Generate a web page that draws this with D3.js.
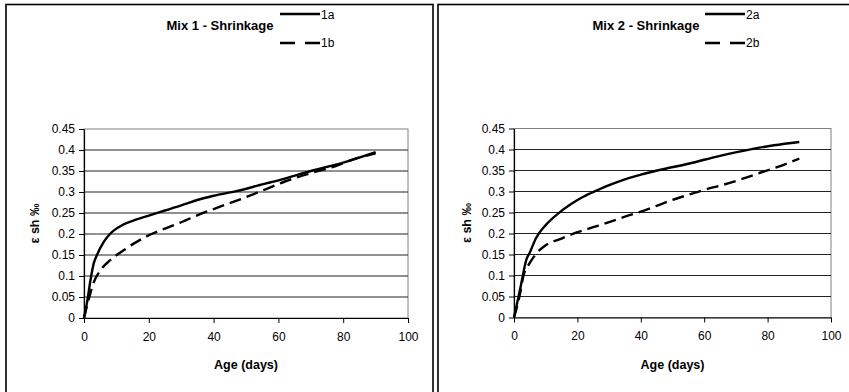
<!DOCTYPE html>
<html>
<head>
<meta charset="utf-8">
<script src="https://cdn.jsdelivr.net/npm/d3@7"></script>
<style>
  body { margin: 0; background: #fff; }
  svg { font-family: "Liberation Sans", Arial, sans-serif; }
  .axis path, .axis line { stroke: #000; }
  .axis text { font-size: 12px; fill: #000; }
</style>
</head>
<body>
<div id="chart"></div>
<script>
// tick values
var ageTicks = [0, 20, 40, 60, 80, 100];
var strainTicks = [0, 0.05, 0.1, 0.15, 0.2, 0.25, 0.3, 0.35, 0.4, 0.45];

// Mix 1
var age1a = [0, 1, 2, 3, 4, 6, 8, 12, 16, 20, 25, 30, 35, 40, 47, 55, 62, 70, 80, 90];
var strain1a = [0, 0.04, 0.09, 0.13, 0.15, 0.18, 0.2, 0.222, 0.234, 0.244, 0.256, 0.268, 0.281, 0.291, 0.302, 0.318, 0.332, 0.35, 0.37, 0.395];
var age1b = [0, 2, 3, 5, 8, 12, 16, 20, 25, 30, 36, 42, 48, 54, 62, 70, 77, 84, 90];
var strain1b = [0, 0.06, 0.085, 0.113, 0.137, 0.16, 0.18, 0.197, 0.213, 0.228, 0.248, 0.265, 0.282, 0.3, 0.325, 0.345, 0.36, 0.38, 0.392];

// Mix 2
var age2a = [0, 2, 4, 5, 7, 10, 14, 18, 22, 26, 30, 35, 40, 47, 55, 65, 75, 82, 90];
var strain2a = [0, 0.07, 0.14, 0.155, 0.19, 0.22, 0.248, 0.27, 0.288, 0.302, 0.315, 0.329, 0.34, 0.353, 0.366, 0.385, 0.401, 0.41, 0.418];
var age2b = [0, 2, 3, 5, 7, 10, 15, 20, 25, 30, 35, 40, 45, 50, 55, 60, 66, 72, 77, 83, 90];
var strain2b = [0, 0.06, 0.1, 0.13, 0.152, 0.172, 0.188, 0.203, 0.215, 0.227, 0.24, 0.252, 0.266, 0.28, 0.292, 0.304, 0.316, 0.33, 0.343, 0.358, 0.378];

var panels = [
  { title: "Mix 1 - Shrinkage", names: ["1a", "1b"], ages: [age1a, age1b], strains: [strain1a, strain1b],
    box: 6, left: 84, right: 408, top: 129, bottom: 318, titleX: 220, legendX: 280 },
  { title: "Mix 2 - Shrinkage", names: ["2a", "2b"], ages: [age2a, age2b], strains: [strain2a, strain2b],
    box: 438, left: 514, right: 831, top: 128.5, bottom: 317.5, titleX: 646, legendX: 705 }
];

var svg = d3.select("#chart").append("svg")
  .attr("width", 849)
  .attr("height", 392);

var dashes = ["none", "12,6"];

panels.forEach(function (p) {
  var g = svg.append("g");

  // outer frame
  g.append("rect")
    .attr("x", p.box)
    .attr("y", 4.5)
    .attr("width", 427)
    .attr("height", 400)
    .attr("fill", "none")
    .attr("stroke", "#000")
    .attr("stroke-width", 1.6);

  var x = d3.scaleLinear().domain([0, 100]).range([p.left, p.right]);
  var y = d3.scaleLinear().domain([0, 0.45]).range([p.bottom, p.top]);

  // plot area border
  g.append("rect")
    .attr("x", p.left)
    .attr("y", p.top)
    .attr("width", p.right - p.left)
    .attr("height", p.bottom - p.top)
    .attr("fill", "none")
    .attr("stroke", "#808080");

  // grid
  g.append("g")
    .selectAll("line")
    .data(strainTicks.slice(1, -1))
    .enter()
    .append("line")
    .attr("x1", p.left)
    .attr("x2", p.right)
    .attr("y1", d => y(d))
    .attr("y2", d => y(d))
    .attr("stroke", "#222")
    .attr("stroke-width", 1);

  // axes
  g.append("g")
    .attr("class", "axis")
    .attr("transform", "translate(0," + p.bottom + ")")
    .call(d3.axisBottom(x).tickValues(ageTicks).tickSize(5).tickSizeOuter(0).tickPadding(9).tickFormat(d => d))
    .select(".domain").attr("stroke-width", 1.2);

  g.append("g")
    .attr("class", "axis")
    .attr("transform", "translate(" + p.left + ",0)")
    .call(d3.axisLeft(y).tickValues(strainTicks).tickSize(5).tickSizeOuter(0).tickPadding(4).tickFormat(d => String(d)))
    .select(".domain").attr("stroke-width", 1.2);

  // axis titles
  g.append("text")
    .attr("x", (p.left + p.right) / 2)
    .attr("y", 369)
    .attr("text-anchor", "middle")
    .attr("font-size", 12.5)
    .attr("font-weight", "bold")
    .text("Age (days)");

  g.append("text")
    .attr("transform", "translate(" + (p.box + 33) + "," + ((p.top + p.bottom) / 2) + ") rotate(-90)")
    .attr("text-anchor", "middle")
    .attr("font-size", 12.5)
    .attr("font-weight", "bold")
    .text("ε sh ‰");

  // title
  g.append("text")
    .attr("x", p.titleX)
    .attr("y", 30)
    .attr("text-anchor", "middle")
    .attr("font-size", 13)
    .attr("font-weight", "bold")
    .text(p.title);

  // lines
  var line = d3.line()
    .x(d => x(d[0]))
    .y(d => y(d[1]))
    .curve(d3.curveMonotoneX);

  p.names.forEach(function (name, i) {
    var pts = p.ages[i].map((a, j) => [a, p.strains[i][j]]);
    g.append("path")
      .attr("d", line(pts))
      .attr("fill", "none")
      .attr("stroke", "#000")
      .attr("stroke-width", 2.4)
      .attr("stroke-dasharray", dashes[i]);

    // legend
    var ly = i === 0 ? 14 : 43;
    g.append("line")
      .attr("x1", p.legendX)
      .attr("x2", p.legendX + 40)
      .attr("y1", ly)
      .attr("y2", ly)
      .attr("stroke", "#000")
      .attr("stroke-width", 2.4)
      .attr("stroke-dasharray", i === 0 ? "none" : "15,10");
    g.append("text")
      .attr("x", p.legendX + 41)
      .attr("y", ly + (i === 0 ? 5 : 4))
      .attr("font-size", 12)
      .text(name);
  });
});
</script>
</body>
</html>
